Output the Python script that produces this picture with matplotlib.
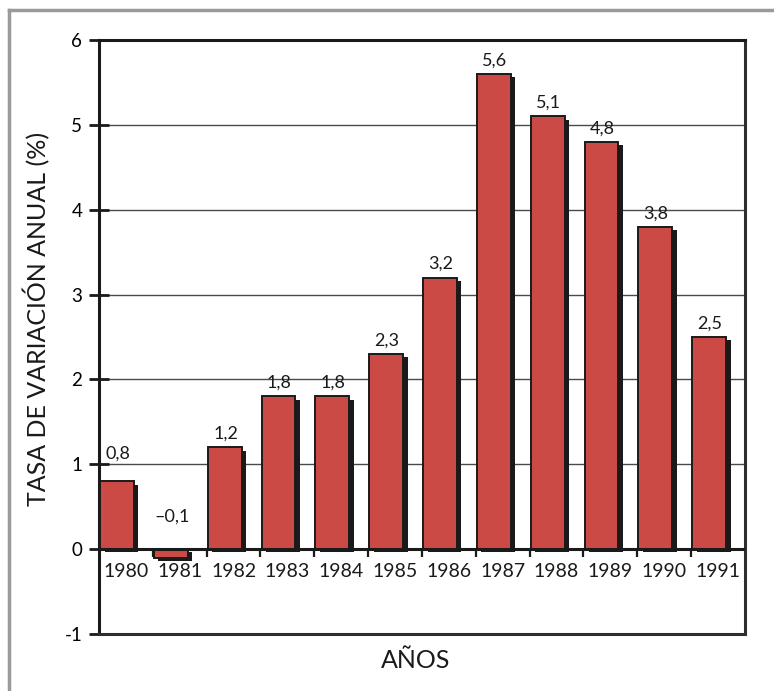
import numpy as np
import matplotlib
matplotlib.use("Agg")
import matplotlib.pyplot as plt
import matplotlib.patheffects as pe
from matplotlib.lines import Line2D

plt.rcParams['font.family'] = ['Lato', 'DejaVu Sans']

years = ['1980', '1981', '1982', '1983', '1984', '1985',
         '1986', '1987', '1988', '1989', '1990', '1991']
rates = [0.8, -0.1, 1.2, 1.8, 1.8, 2.3, 3.2, 5.6, 5.1, 4.8, 3.8, 2.5]
yticks = [-1, 0, 1, 2, 3, 4, 5, 6]
ytick_labels = ['-1', '0', '1', '2', '3', '4', '5', '6']

bar_color = '#cc4a46'

fig = plt.figure(figsize=(7.74, 6.91), dpi=100)
ax = fig.add_axes([0.1279, 0.0825, 0.8346, 0.8596])

# grey frame round the whole chart (open to the right and bottom)
fx, fy = 8.5 / 774, 1 - 9.5 / 691
fig.add_artist(Line2D([fx, fx], [0, fy], transform=fig.transFigure, color='#9a9a9a', lw=2.5))
fig.add_artist(Line2D([fx, 1], [fy, fy], transform=fig.transFigure, color='#9a9a9a', lw=2.5))

n = len(years)
slots = np.arange(n)
bars = ax.bar(slots + 0.02, rates, width=0.63, align='edge', color=bar_color,
              edgecolor='#1a1a1a', linewidth=1.4, zorder=3)
for b in bars:
    b.set_path_effects([pe.SimplePatchShadow(offset=(3.2, -2.4), shadow_rgbFace='#1a1a1a', alpha=1.0),
                        pe.Normal()])

ax.set_xlim(0, n)
ax.set_ylim(-1, 6)
ax.set_yticks(yticks)
ax.set_yticklabels(ytick_labels)
ax.set_xticks([])
ax.tick_params(axis='y', direction='inout', length=14, width=2, color='#1a1a1a',
               labelsize=13.5, pad=5)

for y in range(1, 6):
    ax.axhline(y, color='#4a4a4a', lw=1, zorder=1)
ax.axhline(0, color='#1a1a1a', lw=2.2, zorder=4)
for k in range(1, n):
    ax.plot([k, k], [0, -0.09], color='#1a1a1a', lw=1.6, zorder=4, solid_capstyle='butt')

for side in ['left', 'top']:
    ax.spines[side].set_linewidth(2.2)
    ax.spines[side].set_color('#1a1a1a')
for side in ['right', 'bottom']:
    ax.spines[side].set_linewidth(2.2)
    ax.spines[side].set_color('#2e2e2e')

# year labels under the zero line
for i, yr in enumerate(years):
    ax.text(i + 0.5, -0.16, yr, ha='center', va='top', fontsize=14, color='#1a1a1a')

# value labels over the bars
extra = {0: 10, 1: 14}
for i, v in enumerate(rates):
    txt = ('%.1f' % abs(v)).replace('.', ',')
    if v < 0:
        txt = '\u2013' + txt
    ax.annotate(txt, (i + 0.35, max(v, 0)), xytext=(0, 4 + extra.get(i, 0)),
                textcoords='offset points', ha='center', va='bottom',
                fontsize=13, color='#1a1a1a', zorder=5)

ax.set_ylabel('TASA DE VARIACIÓN ANUAL (%)', fontsize=18, color='#1a1a1a')
ax.yaxis.set_label_coords(-0.075, 0.53)
ax.set_xlabel('AÑOS', fontsize=18, color='#1a1a1a')
ax.xaxis.set_label_coords(0.49, -0.025)

fig.savefig('out.png', dpi=100)
